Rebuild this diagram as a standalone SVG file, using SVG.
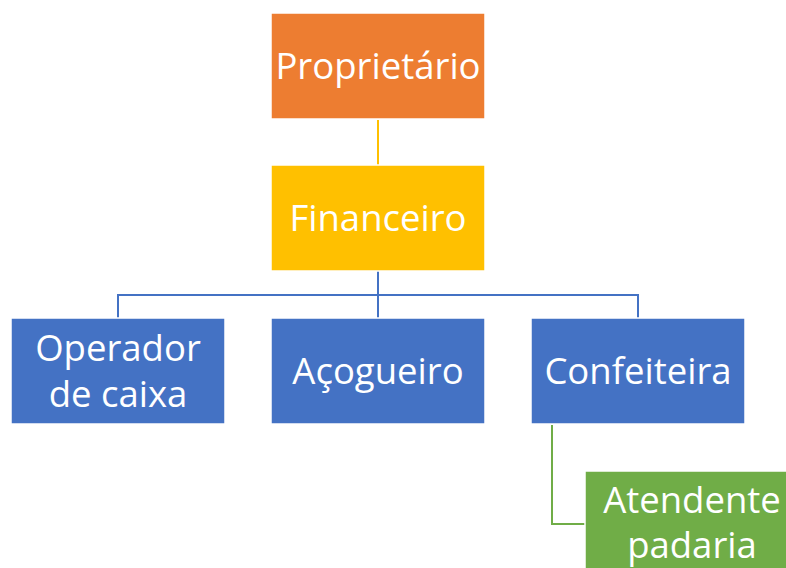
<svg xmlns="http://www.w3.org/2000/svg" width="786" height="568" viewBox="0 0 786 568">
<style>
.t{font-family:"Open Sans","Liberation Sans",sans-serif;font-size:36.5px;fill:#fff;text-anchor:middle}
.b{stroke:#fff;stroke-width:1.5}
</style>
<rect width="786" height="568" fill="#fff"/>
<g id="connectors" fill="none" stroke-width="2">
<path d="M378 120V165" stroke="#FFC000"/>
<path d="M378 271V295M118 295H638M118 294V318M378 294V318M638 294V318" stroke="#4472C4"/>
<path d="M552 425V524H585" stroke="#70AD47"/>
</g>
<g id="proprietario"><rect class="b" x="271" y="13" width="214" height="106" fill="#ED7D31"/><text class="t" x="378" y="79">Proprietário</text></g>
<g id="financeiro"><rect class="b" x="271" y="165" width="214" height="106" fill="#FFC000"/><text class="t" x="378" y="231">Financeiro</text></g>
<g id="operador"><rect class="b" x="11" y="318" width="214" height="106" fill="#4472C4"/><text class="t" x="118" y="361">Operador</text><text class="t" x="118" y="407">de caixa</text></g>
<g id="acougueiro"><rect class="b" x="271" y="318" width="214" height="106" fill="#4472C4"/><text class="t" x="378" y="384">Açogueiro</text></g>
<g id="confeiteira"><rect class="b" x="531" y="318" width="214" height="106" fill="#4472C4"/><text class="t" x="638" y="384">Confeiteira</text></g>
<g id="atendente"><rect class="b" x="585" y="471" width="214" height="106" fill="#70AD47"/><text class="t" x="692" y="513">Atendente</text><text class="t" x="692" y="558">padaria</text></g>
</svg>
